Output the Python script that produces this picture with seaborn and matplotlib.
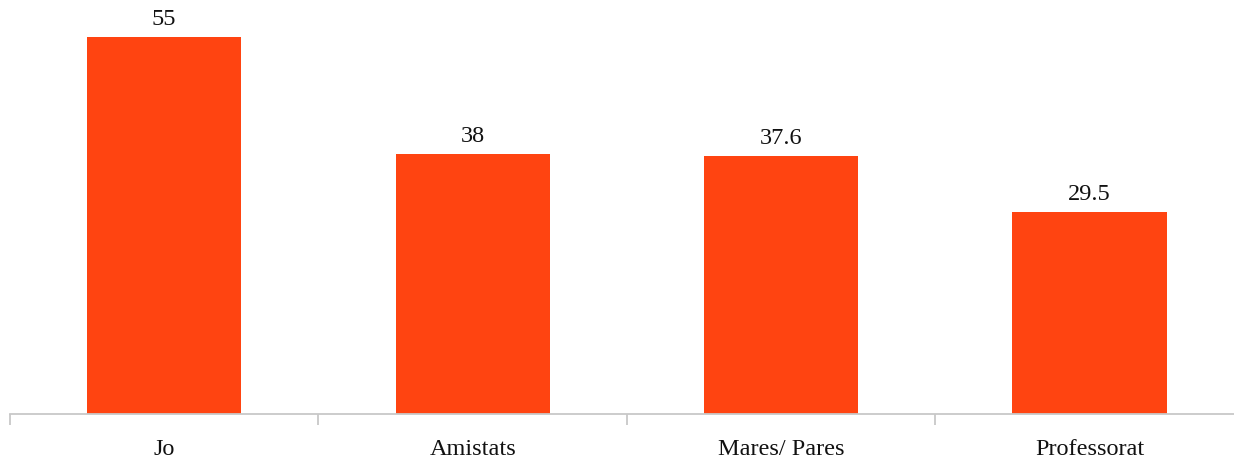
import numpy as np
import pandas as pd
import matplotlib.pyplot as plt
import seaborn as sns
from matplotlib.ticker import FixedLocator

sns.set_style('white')
plt.rcParams['font.family'] = ['Liberation Serif', 'DejaVu Serif']

categories = ['Jo', 'Amistats', 'Mares/ Pares', 'Professorat']
values = [55, 38, 37.6, 29.5]
value_labels = ['55', '38', '37.6', '29.5']

df = pd.DataFrame({'cat': categories, 'val': values})

fig = plt.figure(figsize=(12.34, 4.62), dpi=100)
ax = fig.add_axes([10 / 1234, 48 / 462, 1233.75 / 1234, 411.3 / 462])

sns.barplot(ax=ax, data=df, x='cat', y='val', color='#ff4411', width=0.5,
            saturation=1, linewidth=0, edgecolor='none')
ax.set_ylim(0, 60)
ax.set_xlim(-0.5, len(categories) - 0.5)

ax.bar_label(ax.containers[0], labels=value_labels, padding=5,
             fontsize=17.5, color='#111111')

for s in ['top', 'right', 'left']:
    ax.spines[s].set_visible(False)
ax.spines['bottom'].set_color('#c8c8c8')
ax.spines['bottom'].set_linewidth(1.3)
ax.set_yticks([])
ax.set_xlabel('')
ax.set_ylabel('')

ax.tick_params(axis='x', which='major', bottom=False, length=0, pad=18,
               labelsize=17.5, labelcolor='#111111')
ax.xaxis.set_minor_locator(FixedLocator(np.arange(-0.5, len(categories), 1)))
ax.tick_params(axis='x', which='minor', bottom=True, length=8, width=1.3,
               color='#c8c8c8', direction='out')

fig.savefig('out.png', dpi=100)
